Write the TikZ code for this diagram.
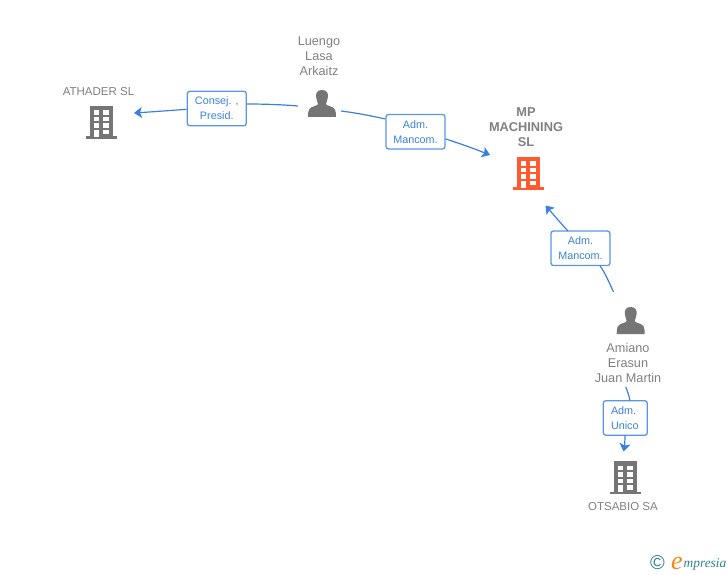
\documentclass[tikz,border=0pt]{standalone}
\usepackage{fontspec}
\setmainfont{Liberation Sans}
\newfontfamily\logofont{Liberation Serif}
\usetikzlibrary{arrows.meta}
\definecolor{txtgray}{HTML}{808080}
\definecolor{icongray}{HTML}{757575}
\definecolor{iconorange}{HTML}{FF5B2E}
\definecolor{linkblue}{HTML}{3B80E0}
\definecolor{boxblue}{HTML}{5A96E6}
\definecolor{logoteal}{HTML}{2F7F8F}
\definecolor{logoorange}{HTML}{F08A12}
\tikzset{
  x=1pt,y=-1pt,
  namelabel/.style={text=txtgray,font=\fontsize{12.7}{15}\selectfont,align=center,inner sep=0pt},
  capslabel/.style={text=txtgray,font=\fontsize{11.5}{15}\selectfont,align=center,inner sep=0pt},
  mainlabel/.style={namelabel,font=\fontsize{12.8}{15}\selectfont\bfseries},
  rolebox/.style={draw=boxblue,line width=1.3pt,rounded corners=2.5pt,fill=white,text=linkblue,
    font=\fontsize{10.8}{15}\selectfont,align=center,inner sep=0pt,minimum height=34.5pt},
  link/.style={linkblue,line width=1.2pt},
  arrowlink/.style={link,-{Stealth[length=8pt,width=11pt,inset=2pt]}},
  pics/building/.style={code={
    \fill[#1] (0,30.5) rectangle (31,33);
    \fill[#1] (4.3,0) rectangle (27,31);
    \foreach \yy in {4.5,11,17.5}{
      \fill[white] (8.2,\yy) rectangle (13.7,\yy+4.5);
      \fill[white] (17.7,\yy) rectangle (23.2,\yy+4.5);
    }
    \fill[white] (8.2,24) rectangle (13.7,31);
    \fill[white] (17.7,24) rectangle (23.2,28.5);
  }},
  pics/person/.style={code={
    \fill[icongray] (14,0) .. controls (9,0) and (7.6,3.5) .. (8.1,7)
      .. controls (8.4,10) and (9.6,12) .. (10,14)
      .. controls (10,16) and (3,16) .. (1,19.5)
      .. controls (0,21.5) and (0,25) .. (0,27) -- (28,27)
      .. controls (28,25) and (28,21.5) .. (27,19.5)
      .. controls (25,16) and (18,16) .. (18,14)
      .. controls (18.4,12) and (19.6,10) .. (19.9,7)
      .. controls (20.4,3.5) and (19,0) .. (14,0) -- cycle;
  }}
}
\begin{document}
\begin{tikzpicture}
\useasboundingbox (0,0) rectangle (728,575);
% labels
\node[namelabel] (luengo) at (319,56) {Luengo\\Lasa\\Arkaitz};
\node[capslabel] (athader) at (98.5,92) {ATHADER SL};
\node[mainlabel] (mp) at (526,127) {MP\\MACHINING\\SL};
\node[namelabel] (amiano) at (628,363) {Amiano\\Erasun\\Juan Martin};
\node[capslabel] (otsabio) at (623,507) {OTSABIO SA};
% icons
\pic at (85.7,106) {building=icongray};
\pic at (512.7,156.5) {building=iconorange};
\pic at (609.7,461) {building=icongray};
\pic at (308,90) {person};
\pic at (616.7,307) {person};
% connector ends
\coordinate (luengoW) at (298,106);
\coordinate (luengoE) at (341,111);
\coordinate (athaderE) at (134,113);
\coordinate (mpW) at (490,155);
\coordinate (mpS) at (545.5,205.5);
\coordinate (amianoN) at (613.5,292);
\coordinate (amianoS) at (625.7,387);
\coordinate (otsabioN) at (623.5,451.5);
% role boxes
\node[rolebox,minimum width=59pt] (r1) at (216.8,108.5) {Consej. ,\\Presid.};
\node[rolebox,minimum width=59pt] (r2) at (415.5,131.7) {Adm.\\Mancom.};
\node[rolebox,minimum width=59pt] (r3) at (580.5,248.3) {Adm.\\Mancom.};
\node[rolebox,minimum width=44pt,text width=28.6pt,align=left] (r4) at (625.3,418) {Adm.\\Unico};
% connectors
\draw[link] (luengoW) .. controls (280,104.5) and (262,104) .. (r1.east |- 0,104);
\draw[arrowlink] (r1.west |- 0,109.3) .. controls (170,110.5) and (150,112) .. (athaderE);
\draw[link] (luengoE) .. controls (357,113) and (372,116) .. (r2.west |- 0,119);
\draw[arrowlink] (r2.east |- 0,139) .. controls (460,143.5) and (475,149) .. (mpW);
\draw[link] (amianoN) .. controls (609,282) and (605,273) .. (600,265.7);
\draw[arrowlink] (568,231) .. controls (560,222.5) and (553,214) .. (mpS);
\draw[link] (amianoS) .. controls (627.5,391) and (629,396) .. (630,400.7);
\draw[arrowlink] (625,435.3) .. controls (625,441) and (624.5,446) .. (otsabioN);
% logo
\node[text=logoteal,font=\fontsize{20}{20}\selectfont,inner sep=0pt] (copy) at (657.5,563) {©};
\node[text=logoorange,font=\logofont\itshape\fontsize{26}{26}\selectfont,inner sep=0pt] (logoe) at (677,563) {e};
\node[text=logoteal,font=\logofont\itshape\fontsize{13.4}{13.4}\selectfont,inner sep=0pt,anchor=west] (logot) at (683.5,564) {mpresia};
\end{tikzpicture}
\end{document}
